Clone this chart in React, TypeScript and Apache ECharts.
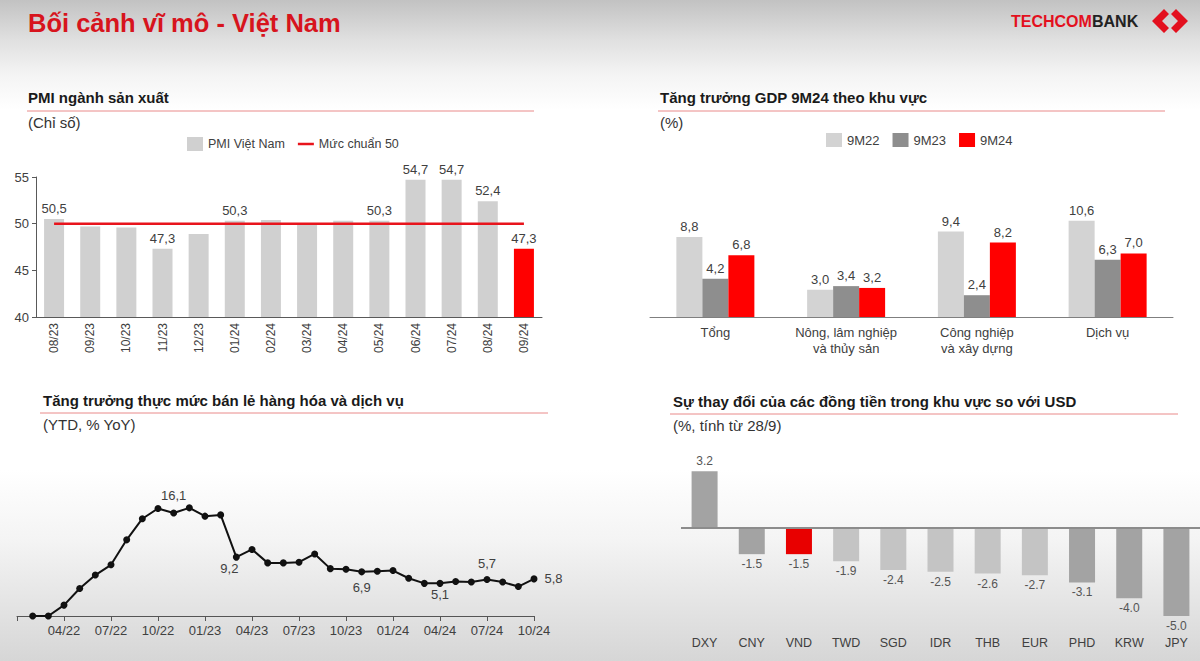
import React, { useEffect, useRef } from "react";
import * as echarts from "echarts";

// ---------- DATA ----------
const pmiMonths = ["08/23", "09/23", "10/23", "11/23", "12/23", "01/24", "02/24", "03/24", "04/24", "05/24", "06/24", "07/24", "08/24", "09/24"];
const pmiValues = [50.5, 49.7, 49.6, 47.3, 48.9, 50.3, 50.4, 49.9, 50.3, 50.3, 54.7, 54.7, 52.4, 47.3];
const pmiBenchmark = [50, 50, 50, 50, 50, 50, 50, 50, 50, 50, 50, 50, 50, 50];
const pmiLabeledMonths = ["08/23", "11/23", "01/24", "05/24", "06/24", "07/24", "08/24", "09/24"];
const pmiTicks = [40, 45, 50, 55];

const gdpSectors = ["Tổng", "Nông, lâm nghiệp\nvà thủy sản", "Công nghiệp\nvà xây dựng", "Dịch vụ"];
const gdp9M22 = [8.8, 3.0, 9.4, 10.6];
const gdp9M23 = [4.2, 3.4, 2.4, 6.3];
const gdp9M24 = [6.8, 3.2, 8.2, 7.0];

const retailMonths = [
  "01/22", "02/22", "03/22", "04/22", "05/22", "06/22", "07/22", "08/22", "09/22", "10/22", "11/22", "12/22",
  "01/23", "02/23", "03/23", "04/23", "05/23", "06/23", "07/23", "08/23", "09/23", "10/23", "11/23", "12/23",
  "01/24", "02/24", "03/24", "04/24", "05/24", "06/24", "07/24", "08/24", "09/24", "10/24",
];
const retailValues = [
  null, 0, 0, 1.7, 4.3, 6.4, 8.0, 11.9, 15.2, 16.8, 16.1, 16.9,
  15.6, 15.8, 9.2, 10.4, 8.3, 8.3, 8.4, 9.7, 7.4, 7.3, 6.9, 7.0,
  7.1, 5.9, 5.1, 5.1, 5.4, 5.3, 5.7, 5.3, 4.6, 5.8,
];
const retailLabeledMonths = ["11/22", "03/23", "11/23", "04/24", "07/24", "10/24"];

const currencies = ["DXY", "CNY", "VND", "TWD", "SGD", "IDR", "THB", "EUR", "PHD", "KRW", "JPY"];
const currencyChange = [3.2, -1.5, -1.5, -1.9, -2.4, -2.5, -2.6, -2.7, -3.1, -4.0, -5.0];

// ---------- STYLE ----------
const FONT = '"Liberation Sans", Arial, sans-serif';
const TXT = "#404040";
const comma = (v: number) => v.toFixed(1).replace(".", ",");

const retailLabelPos: Record<string, any> = {
  "11/22": { position: "top", distance: 7 },
  "03/23": { position: "bottom", distance: 1, offset: [-7, 0] },
  "11/23": { position: "bottom", distance: 6 },
  "04/24": { position: "bottom", distance: 1 },
  "07/24": { position: "top", distance: 6 },
  "10/24": { position: "right", distance: 7 },
};

const currencyColor = (name: string) => {
  if (name === "VND") return "#e80000";
  if (["TWD", "SGD", "IDR", "THB", "EUR"].includes(name)) return "#c4c4c4";
  return "#a3a3a3";
};

function heading(title: string, sub: string, x: number, yTitle: number, yLine: number, ySub: number, lx1: number, lx2: number) {
  return [
    {
      type: "text", x, y: yTitle,
      style: { text: title, fontSize: 15, fontWeight: "bold", fontFamily: FONT, fill: "#1a1a1a", verticalAlign: "middle" },
    },
    {
      type: "line", shape: { x1: lx1, y1: yLine, x2: lx2, y2: yLine },
      style: { stroke: "#e98a8a", lineWidth: 1 },
    },
    {
      type: "text", x, y: ySub,
      style: { text: sub, fontSize: 15, fontFamily: FONT, fill: "#333", verticalAlign: "middle" },
    },
  ];
}

export default function App() {
  const ref = useRef<HTMLDivElement>(null);

  useEffect(() => {
    document.body.style.margin = "0";
    const chart = echarts.init(ref.current!, null, { renderer: "svg", width: 1200, height: 661 });

    const option: any = {
      animation: false,
      backgroundColor: "transparent",
      textStyle: { fontFamily: FONT },
      grid: [
        { left: 36, right: 658, top: 177, bottom: 344, outerBoundsMode: "none" },
        { left: 650, right: 27, top: 208, bottom: 344, outerBoundsMode: "none" },
        { left: 17, right: 666, top: 488, bottom: 45, outerBoundsMode: "none" },
        { left: 681, right: 0, top: 457, bottom: 45, outerBoundsMode: "none" },
      ],
      legend: [
        {
          left: 182, top: 132, itemWidth: 16, itemHeight: 14, itemGap: 13,
          textStyle: { fontSize: 12.5, color: TXT, fontFamily: FONT },
          data: [
            { name: "PMI Việt Nam", icon: "rect" },
            { name: "Mức chuẩn 50", icon: "path://M0,0L16,0L16,2.5L0,2.5Z" },
          ],
        },
        {
          left: 821, top: 128, itemWidth: 16, itemHeight: 14, itemGap: 13,
          textStyle: { fontSize: 13, color: TXT, fontFamily: FONT },
          data: [{ name: "9M22", icon: "rect" }, { name: "9M23", icon: "rect" }, { name: "9M24", icon: "rect" }],
        },
      ],
      xAxis: [
        {
          type: "category", gridIndex: 0, data: pmiMonths,
          axisLine: { lineStyle: { color: "#595959" } },
          axisTick: { show: false },
          axisLabel: { rotate: 90, fontSize: 12, color: TXT, margin: 6, interval: 0 },
        },
        {
          type: "category", gridIndex: 1, data: gdpSectors,
          axisLine: { lineStyle: { color: "#7f7f7f" } },
          axisTick: { show: false },
          axisLabel: { fontSize: 13, color: TXT, lineHeight: 16, margin: 7, interval: 0, hideOverlap: false },
        },
        {
          type: "category", gridIndex: 2, data: retailMonths, boundaryGap: false,
          axisLine: { lineStyle: { color: "#555" } },
          axisTick: { show: true, length: 5, interval: (i: number) => i % 3 === 0, lineStyle: { color: "#555" } },
          axisLabel: { interval: (i: number) => i % 3 === 0 && i > 0, fontSize: 13, color: TXT, margin: 8 },
        },
        {
          type: "category", gridIndex: 3, data: currencies,
          axisLine: { show: false },
          axisTick: { show: false },
          axisLabel: { fontSize: 12.5, color: TXT, margin: 20, interval: 0 },
        },
      ],
      yAxis: [
        {
          type: "value", gridIndex: 0, min: pmiTicks[0], max: pmiTicks[pmiTicks.length - 1], interval: 5,
          axisLine: { show: true, lineStyle: { color: "#595959" } },
          axisTick: { show: true, length: 4, lineStyle: { color: "#595959" } },
          splitLine: { show: false },
          axisLabel: { fontSize: 13, color: TXT, margin: 7 },
        },
        { type: "value", gridIndex: 1, min: 0, max: 12, show: false, splitLine: { show: false } },
        { type: "value", gridIndex: 2, min: 0, max: 20, show: false, splitLine: { show: false } },
        { type: "value", gridIndex: 3, min: -5, max: 4, show: false, splitLine: { show: false } },
      ],
      series: [
        {
          name: "PMI Việt Nam", type: "bar", xAxisIndex: 0, yAxisIndex: 0, barWidth: 20,
          itemStyle: { color: "#d0d0d0" },
          label: { fontSize: 13, color: TXT, position: "top", distance: 4, formatter: (p: any) => comma(p.value) },
          data: pmiValues.map((v, i) => ({
            value: v,
            itemStyle: i === pmiValues.length - 1 ? { color: "#ff0000" } : undefined,
            label: { show: pmiLabeledMonths.includes(pmiMonths[i]) },
          })),
        },
        {
          name: "Mức chuẩn 50", type: "line", xAxisIndex: 0, yAxisIndex: 0, symbol: "none",
          lineStyle: { color: "#e8141c", width: 2.5 }, itemStyle: { color: "#e8141c" },
          data: pmiBenchmark, z: 5,
        },
        ...[
          { name: "9M22", data: gdp9M22, color: "#d3d3d3" },
          { name: "9M23", data: gdp9M23, color: "#8e8e8e" },
          { name: "9M24", data: gdp9M24, color: "#ff0000" },
        ].map((s) => ({
          name: s.name, type: "bar", xAxisIndex: 1, yAxisIndex: 1, barWidth: 26, barGap: "0%",
          itemStyle: { color: s.color },
          label: { show: true, position: "top", distance: 4, fontSize: 13, color: TXT, formatter: (p: any) => comma(p.value) },
          data: s.data,
        })),
        {
          name: "Bán lẻ", type: "line", xAxisIndex: 2, yAxisIndex: 2,
          symbol: "circle", symbolSize: 7,
          lineStyle: { color: "#111", width: 2 }, itemStyle: { color: "#111" },
          label: { fontSize: 13, color: TXT, formatter: (p: any) => comma(p.value) },
          data: retailValues.map((v, i) => {
            const m = retailMonths[i];
            if (v === null) return null;
            if (retailLabeledMonths.includes(m)) return { value: v, label: { show: true, ...retailLabelPos[m] } };
            return v;
          }),
        },
        {
          name: "Tiền tệ", type: "bar", xAxisIndex: 3, yAxisIndex: 3, barWidth: 26,
          data: currencyChange.map((v, i) => ({
            value: v,
            itemStyle: { color: currencyColor(currencies[i]) },
            label: { show: true, position: v >= 0 ? "top" : "bottom", distance: 4, fontSize: 12, color: "#555", formatter: (p: any) => Number(p.value).toFixed(1) },
          })),
          markLine: {
            silent: true, symbol: ["none", "none"], label: { show: false },
            lineStyle: { color: "#8c8c8c", width: 2, type: "solid" },
            data: [{ yAxis: 0 }],
          },
        },
      ],
      graphic: [
        {
          type: "text", x: 28, y: 23,
          style: { text: "Bối cảnh vĩ mô - Việt Nam", fontSize: 25.5, fontWeight: "bold", fontFamily: FONT, fill: "#d7141d", verticalAlign: "middle" },
        },
        {
          type: "text", x: 1011, y: 21,
          style: { text: "TECHCOM", fontSize: 16, fontWeight: "bold", fontFamily: FONT, fill: "#e3101e", verticalAlign: "middle" },
        },
        {
          type: "text", x: 1092, y: 21,
          style: { text: "BANK", fontSize: 16, fontWeight: "bold", fontFamily: FONT, fill: "#222", verticalAlign: "middle" },
        },
        {
          type: "polygon",
          shape: { points: [[1152, 21], [1164, 9], [1169, 14], [1162, 21], [1169, 28], [1164, 33]] },
          style: { fill: "#e3101e" },
        },
        {
          type: "polygon",
          shape: { points: [[1188, 21], [1176, 9], [1171, 14], [1178, 21], [1171, 28], [1176, 33]] },
          style: { fill: "#e3101e" },
        },
        ...heading("PMI ngành sản xuất", "(Chỉ số)", 28, 97, 111, 122, 27, 534),
        ...heading("Tăng trưởng GDP 9M24 theo khu vực", "(%)", 660, 97, 111, 122, 658, 1165),
        ...heading("Tăng trưởng thực mức bán lẻ hàng hóa và dịch vụ", "(YTD, % YoY)", 43, 400, 413, 424, 40, 548),
        ...heading("Sự thay đổi của các đồng tiền trong khu vực so với USD", "(%, tính từ 28/9)", 673, 401, 414, 425, 670, 1178),
      ],
    };

    chart.setOption(option);
    return () => chart.dispose();
  }, []);

  return (
    <div
      ref={ref}
      style={{
        position: "fixed", left: 0, top: 0, width: 1200, height: 661,
        background: "linear-gradient(to bottom, #c2c2c2 0px, #e0e0e0 40px, #f4f4f4 75px, #ffffff 110px, #ffffff 470px, #f4f4f4 540px, #d6d6d6 661px)",
      }}
    />
  );
}
